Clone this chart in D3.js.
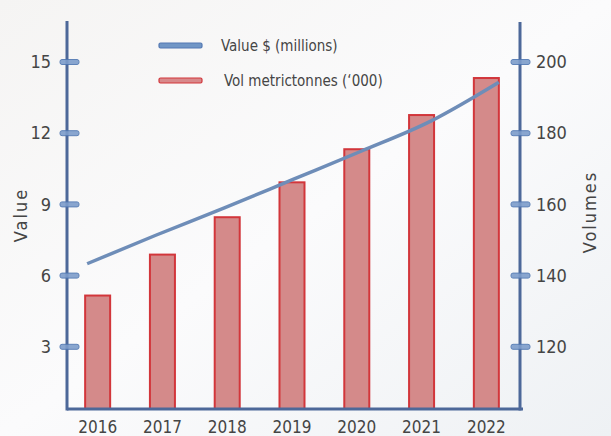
<!DOCTYPE html>
<html>
<head>
<meta charset="utf-8">
<script src="https://cdn.jsdelivr.net/npm/d3@7"></script>
<style>
  html, body { margin: 0; padding: 0; overflow: hidden; }
  body { width: 611px; height: 436px; }
  svg text { font-family: "Liberation Sans Narrow", "DejaVu Sans Condensed", Lato, sans-serif; fill: #454545; }
</style>
</head>
<body>
<div id="container"></div>
<script>
const years = ["2016", "2017", "2018", "2019", "2020", "2021", "2022"];
const volumes = [134.4, 145.9, 156.4, 166.2, 175.5, 185.1, 195.5];
const values = [6.5, 7.7, 8.85, 10.05, 11.25, 12.5, 14.15];
const valueTicks = [3, 6, 9, 12, 15];
const volumeTicks = [120, 140, 160, 180, 200];
const legendLabels = ["Value $ (millions)", "Vol metrictonnes (\u2018000)"];

const W = 611, H = 436;
const axLeft = 67, axRight = 520, axTop = 21, baseline = 409;

const svg = d3.select("#container").append("svg")
    .attr("width", W)
    .attr("height", H);

// soft background
const defs = svg.append("defs");
const bg = defs.append("linearGradient").attr("id", "bg")
    .attr("x1", 0).attr("y1", 0).attr("x2", 1).attr("y2", 1);
bg.append("stop").attr("offset", "0%").attr("stop-color", "#f5f4f3");
bg.append("stop").attr("offset", "50%").attr("stop-color", "#fbfbfc");
bg.append("stop").attr("offset", "100%").attr("stop-color", "#eef1f4");
svg.append("rect").attr("width", W).attr("height", H).attr("fill", "url(#bg)");

const x = d3.scaleBand()
    .domain(years)
    .range([axLeft, 517])
    .paddingInner(0.614)
    .paddingOuter(0.28);

const yL = d3.scaleLinear().domain([0, 15]).range([418, 62]);
const yR = d3.scaleLinear().domain([100, 200]).range([418, 62]);

// line runs from left edge of the first bar to right edge of the last one
const xLine = d3.scaleLinear()
    .domain([+years[0], +years[years.length - 1]])
    .range([x(years[0]) + 2, x(years[years.length - 1]) + x.bandwidth()]);

// bars
svg.selectAll("rect.bar")
    .data(years)
  .enter().append("rect")
    .attr("class", "bar")
    .attr("x", d => x(d))
    .attr("y", (d, i) => yR(volumes[i]))
    .attr("width", x.bandwidth())
    .attr("height", (d, i) => baseline - yR(volumes[i]))
    .attr("fill", "#d48a8a")
    .attr("stroke", "#d2363b")
    .attr("stroke-width", 2);

// value line
const line = d3.line()
    .x((d, i) => xLine(+years[i]))
    .y(d => yL(d))
    .curve(d3.curveMonotoneX);

svg.append("path")
    .datum(values)
    .attr("d", line)
    .attr("fill", "none")
    .attr("stroke", "#6e8db8")
    .attr("stroke-width", 3.5);

// axes lines
const axisColor = "#4d6899";
svg.append("line")
    .attr("x1", axLeft).attr("x2", axLeft).attr("y1", axTop).attr("y2", baseline + 1.5)
    .attr("stroke", axisColor).attr("stroke-width", 3);
svg.append("line")
    .attr("x1", axRight).attr("x2", axRight).attr("y1", axTop + 1).attr("y2", baseline + 1.5)
    .attr("stroke", axisColor).attr("stroke-width", 3);
svg.append("line")
    .attr("x1", axLeft).attr("x2", axRight + 3).attr("y1", baseline).attr("y2", baseline)
    .attr("stroke", axisColor).attr("stroke-width", 3);

// left axis labels
const gL = svg.append("g")
    .attr("transform", `translate(${axLeft},0)`)
    .call(d3.axisLeft(yL).tickValues(valueTicks).tickSize(0).tickPadding(16));
gL.select(".domain").remove();
gL.selectAll("text").style("font-size", "18px").attr("fill", null);

// right axis labels
const gR = svg.append("g")
    .attr("transform", `translate(${axRight},0)`)
    .call(d3.axisRight(yR).tickValues(volumeTicks).tickSize(0).tickPadding(16));
gR.select(".domain").remove();
gR.selectAll("text").style("font-size", "18px").attr("fill", null);

// bottom axis labels
const gB = svg.append("g")
    .attr("transform", `translate(0,${baseline})`)
    .call(d3.axisBottom(x).tickSize(0).tickPadding(12));
gB.select(".domain").remove();
gB.selectAll("text").style("font-size", "17px").attr("fill", null);
[gL, gR, gB].forEach(g => g.attr("font-family", null).attr("font-size", null));

// pill shaped tick marks
const tickFill = "#7d9dcb", tickStroke = "#4f77b2";
svg.selectAll("rect.tl")
    .data(valueTicks)
  .enter().append("rect")
    .attr("class", "tl")
    .attr("x", axLeft - 7).attr("y", d => yL(d) - 2.5)
    .attr("width", 19).attr("height", 5).attr("rx", 2)
    .attr("fill", tickFill).attr("stroke", tickStroke).attr("stroke-width", 1)
    .attr("opacity", 0.9);
svg.selectAll("rect.tr")
    .data(volumeTicks)
  .enter().append("rect")
    .attr("class", "tr")
    .attr("x", axRight - 9).attr("y", d => yR(d) - 2.5)
    .attr("width", 19).attr("height", 5).attr("rx", 2)
    .attr("fill", tickFill).attr("stroke", tickStroke).attr("stroke-width", 1)
    .attr("opacity", 0.9);

// axis titles
svg.append("text")
    .attr("transform", "translate(27,215) rotate(-90)")
    .style("text-anchor", "middle")
    .style("font-size", "18px")
    .style("letter-spacing", "2px")
    .text("Value");

svg.append("text")
    .attr("transform", "translate(596,212) rotate(-90)")
    .style("text-anchor", "middle")
    .style("font-size", "18px")
    .style("letter-spacing", "2px")
    .text("Volumes");

// legend
const legend = svg.append("g");
const legendColors = [["#7196c6", "#5479b3"], ["#d8898b", "#d2363b"]];
legendLabels.forEach((label, i) => {
    const ly = 46 + i * 35;
    legend.append("rect")
        .attr("x", 159).attr("y", ly - 3)
        .attr("width", 43).attr("height", 5).attr("rx", 1.5)
        .attr("fill", legendColors[i][0])
        .attr("stroke", legendColors[i][1]).attr("stroke-width", 1.2);
    legend.append("text")
        .attr("x", i === 0 ? 221 : 224).attr("y", ly)
        .attr("dy", "0.35em")
        .style("font-size", "15px")
        .text(label);
});
</script>
</body>
</html>
